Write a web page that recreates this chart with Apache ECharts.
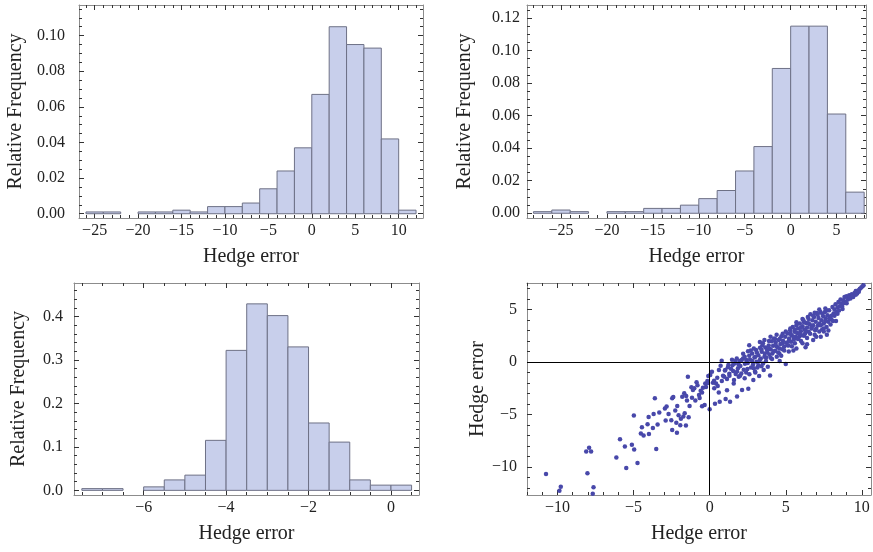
<!DOCTYPE html>
<html>
<head>
<meta charset="utf-8">
<script src="https://cdn.jsdelivr.net/npm/echarts@6/dist/echarts.min.js"></script>
<style>
  html, body { margin: 0; padding: 0; background: #fff; }
  #chart { width: 873px; height: 552px; }
</style>
</head>
<body>
<div id="chart"></div>
<script>
// histogram 1 (top left): bin left edges, width 2
const hist1Left = [-26, -24, -20, -18, -16, -14, -12, -10, -8, -6, -4, -2, 0, 2, 4, 6, 8, 10];
const hist1Freq = [0.001, 0.001, 0.001, 0.001, 0.002, 0.001, 0.004, 0.004, 0.006, 0.014, 0.024, 0.037, 0.067, 0.105, 0.095, 0.093, 0.042, 0.002];
const hist1Width = 2;

// histogram 2 (top right)
const hist2Left = [-28, -26, -24, -20, -18, -16, -14, -12, -10, -8, -6, -4, -2, 0, 2, 4, 6];
const hist2Freq = [0.001, 0.002, 0.001, 0.001, 0.001, 0.003, 0.003, 0.005, 0.009, 0.014, 0.026, 0.041, 0.089, 0.115, 0.115, 0.061, 0.013];
const hist2Width = 2;

// histogram 3 (bottom left), width 0.5
const hist3Left = [-7.5, -7, -6, -5.5, -5, -4.5, -4, -3.5, -3, -2.5, -2, -1.5, -1, -0.5, 0];
const hist3Freq = [0.004, 0.004, 0.008, 0.024, 0.035, 0.115, 0.322, 0.429, 0.402, 0.330, 0.155, 0.111, 0.024, 0.012, 0.012];
const hist3Width = 0.5;

// scatter (bottom right): [hedge error A, hedge error B]
const scatterPts = [
  [-10.75,-10.66],[-9.87,-12.25],[-9.78,-11.87],[-8.11,-8.51],[-7.92,-8.16],[-7.79,-8.51],[-8.03,-10.6],[-7.63,-11.93],
  [-7.68,-12.53],[-7.0,-12.75],[-6.13,-9.08],[-5.89,-7.34],[-5.57,-8.04],[-5.48,-10.09],[-5.11,-7.88],[-4.96,-8.32],
  [-4.98,-5.09],[-4.74,-9.62],[-4.52,-6.8],[-4.45,-6.2],[-4.34,-6.99],[-4.08,-5.92],[-4.01,-5.22],[-3.99,-6.84],
  [-3.73,-6.27],[-3.68,-4.94],[-3.6,-3.45],[-3.51,-8.29],[-3.42,-5.95],[-3.31,-4.81],[-2.94,-4.43],[-2.89,-5.57],
  [-2.83,-4.24],[-2.7,-4.94],[-2.52,-5.54],[-2.46,-3.45],[-2.39,-3.32],[-2.46,-6.46],[-2.26,-4.62],[-2.19,-5.79],
  [-2.15,-6.74],[-2.13,-4.18],[-2.04,-5.06],[-1.93,-6.01],[-1.89,-5.41],[-1.73,-5.19],[-1.67,-2.97],[-1.64,-4.87],
  [-1.56,-6.04],[-1.54,-3.23],[-1.49,-3.67],[-1.43,-1.39],[-1.38,-5.25],[-1.32,-4.18],[-1.16,-3.39],[-1.1,-2.66],
  [-1.01,-2.5],[-0.94,-3.67],[-0.86,-1.93],[-0.7,-3.13],[-0.66,-3.42],[-0.59,-2.72],[-0.5,-4.21],[-0.44,-2.44],
  [-0.33,-4.08],[-0.29,-2.03],[-0.24,-2.37],[-0.15,-1.8],[-0.09,-1.33],[0,-4.49],[0.04,-1.23],[0.15,-0.92],
  [0.22,-1.96],[0.29,-1.77],[0.35,-3.96],[0.42,-2.03],[0.53,-2.28],[0.61,-0.76],[0.66,-3.77],[0.72,-0.35],
  [0.79,0.13],[0.88,-1.3],[0.96,-1.39],[1.03,-0.76],[1.05,-3.51],[1.14,-1.61],[1.14,-2.69],[1.23,-0.28],
  [1.29,-1.11],[1.34,-3.77],[1.4,-0.63],[1.47,0.22],[1.54,-0.85],[1.58,-2.03],[1.64,-0.13],[1.71,-1.14],
  [1.78,0.35],[1.8,-3.29],[1.86,-0.6],[1.91,-1.39],[1.97,0.09],[2.02,-0.38],[2.08,-1.08],[2.13,-2.66],
  [2.19,0.35],[2.24,-0.73],[2.3,-1.55],[2.32,-0.16],[2.41,0.19],[2.48,-0.66],[2.52,1.04],[2.54,-2.53],
  [2.61,-1.17],[2.65,0.25],[2.72,-0.51],[2.79,0.82],[2.85,-0.22],[2.87,-1.71],[2.94,0.44],[2.98,-0.89],
  [3.05,1.14],[3.09,0.03],[3.14,-0.51],[3.2,0.66],[3.25,-1.33],[3.31,1.36],[3.36,0.35],[3.42,0.98],
  [3.46,1.61],[3.51,-0.13],[3.55,-0.76],[3.62,0.82],[3.66,1.39],[3.71,0.44],[3.77,1.14],[3.82,-0.44],
  [3.88,1.58],[3.93,0.7],[3.97,-1.27],[4.01,1.23],[4.08,1.99],[4.12,0.82],[4.17,1.55],[4.23,2.25],
  [4.3,1.08],[4.34,1.84],[4.41,0.51],[4.47,1.39],[4.54,2.09],[4.58,0.82],[4.65,1.71],[4.71,2.47],
  [4.78,1.23],[4.82,2.03],[4.89,1.46],[4.96,2.41],[5.0,-0.19],[5.04,1.84],[5.11,2.72],[5.18,1.58],
  [5.22,2.25],[5.29,3.04],[5.35,1.93],[5.39,2.56],[5.46,3.35],[5.53,2.15],[5.57,2.88],[5.64,2.41],
  [5.7,3.51],[5.75,2.78],[5.81,3.2],[5.88,2.41],[5.92,3.67],[5.99,2.94],[6.05,2.56],[6.1,3.42],
  [6.16,3.99],[6.23,3.1],[6.27,2.72],[6.34,3.73],[6.4,3.29],[6.45,4.3],[6.51,2.88],[6.58,3.58],
  [6.62,4.56],[6.69,3.2],[6.75,3.99],[6.8,3.51],[6.86,4.3],[6.93,3.04],[6.97,3.83],[7.04,4.68],
  [7.11,3.48],[7.15,4.2],[7.21,3.67],[7.28,4.78],[7.35,3.99],[7.39,3.1],[7.46,4.37],[7.5,3.67],
  [7.57,4.78],[7.63,4.15],[7.68,3.35],[7.74,4.46],[7.79,3.83],[7.85,4.94],[7.89,4.3],[7.94,3.58],
  [8.0,4.05],[8.07,5.25],[8.14,4.62],[8.2,5.0],[8.27,5.51],[8.33,4.78],[8.4,5.19],[8.46,5.73],
  [8.53,5.32],[8.6,5.95],[8.66,5.57],[8.73,5.06],[8.79,5.89],[8.86,6.2],[8.93,5.73],[8.99,6.27],
  [9.08,5.95],[9.17,6.36],[9.25,6.05],[9.34,6.46],[9.43,6.2],[9.52,6.58],[9.6,6.77],[9.69,6.52],
  [9.78,6.84],[9.87,6.99],[9.96,7.09],[10.04,7.22],[10.11,7.31],
  [1.2,-0.5],[1.5,-0.3],[1.7,0.1],[1.9,-0.2],[2.1,0.2],[2.3,0.5],[2.5,-0.1],[2.6,0.6],
  [2.8,0.1],[3.0,0.5],[3.1,0.9],[3.3,0.2],[3.4,1.2],[3.6,0.5],[3.8,0.9],[3.9,1.3],
  [4.0,0.4],[4.2,1.0],[4.4,1.5],[4.5,0.9],[4.6,1.3],[4.8,1.8],[4.9,1.1],[5.1,1.6],
  [5.2,2.0],[5.4,1.5],[5.5,2.4],[5.6,1.8],[5.8,2.2],[5.9,2.7],[6.0,2.0],[6.2,2.5],
  [6.3,3.0],[6.4,2.3],[6.6,2.7],[6.7,3.3],[6.9,2.6],[7.0,3.2],[7.2,2.9],[7.3,3.5],
  [7.5,3.2],[7.6,3.9],[7.8,3.0],[7.9,4.1],[8.1,3.9],[8.2,4.4],[8.4,4.6],[8.5,4.9],
  [8.7,5.3],[8.8,5.6],[9.0,5.6],[9.2,6.1],[9.4,6.3],[9.6,6.4],[9.8,6.7],[4.3,2.2],
  [4.6,2.2],[5.0,2.9],[5.3,2.7],[5.6,3.1],[6.0,3.3],[6.2,3.8],[6.5,3.7],[6.8,4.4],
  [7.1,4.5],[7.4,4.6],[7.7,4.9],[8.0,4.4],[8.3,3.9],[3.5,1.8],[3.9,2.0],[2.2,0.8],
  [2.7,1.1],[1.0,-0.8],[1.3,-1.3],[1.6,-1.7],[1.8,-0.9],[2.0,-1.3],[2.4,-1.0],[2.9,-0.6],
  [3.2,-0.3],[3.7,0.1],[4.1,0.3],[4.7,0.6],[5.2,1.0],[5.7,1.3],[6.1,1.8],[6.4,1.7],
  [6.8,2.1],[7.3,2.4],[7.7,2.6],[0.5,-1.5],[0.8,-1.8],[0.3,-2.5],[0.6,-2.9],[-0.1,-2.0],
  [-0.5,-2.9],[-0.8,-2.2],[-1.2,-2.4],[-1.8,-3.3],
  [3.3,1.9],[3.6,2.1],[4.0,2.4],[4.4,2.6],[4.8,2.7],[5.3,3.2],[5.7,3.8],[6.1,4.1],
  [6.5,4.1],[6.9,4.7],[7.2,5.0],[7.6,5.1],[2.9,1.3],[2.6,1.6],[3.0,-1.0],[3.4,-0.4],
  [4.6,0.1],[5.5,1.1],[6.3,1.4],[7.0,2.4],[7.5,2.9]
];

// tick labels
const ticks1X = [-25, -20, -15, -10, -5, 0, 5, 10];
const ticks1Y = [0, 0.02, 0.04, 0.06, 0.08, 0.10];
const ticks2X = [-25, -20, -15, -10, -5, 0, 5];
const ticks2Y = [0, 0.02, 0.04, 0.06, 0.08, 0.10, 0.12];
const ticks3X = [-6, -4, -2, 0];
const ticks3Y = [0, 0.1, 0.2, 0.3, 0.4];
const ticks4X = [-10, -5, 0, 5, 10];
const ticks4Y = [-10, -5, 0, 5];

const FONT = 'Liberation Serif';
const FRAME = '#8c8c8c';
const TICK = '#333';
const TXT = '#222';

// minor tick positions between majors, inside [min, max]
function minorTicks(majors, n, min, max) {
  const step = (majors[1] - majors[0]) / (n + 1);
  const out = [];
  const start = majors[0] - step * Math.floor((majors[0] - min) / step);
  for (let v = start; v <= max + 1e-9; v += step) out.push(+v.toFixed(6));
  return out;
}

const minus = (s) => s.replace('-', '\u2212');

const xAxis = [];
const yAxis = [];
const grid = [];

// one framed panel: 4 x-axes (bottom major/minor, top major/minor), 4 y-axes
function panel(g, box, xr, yr, xt, yt, xMinorN, yMinorN, xFmt, yFmt, xName, yName, yLabelMargin, yNameGap) {
  grid.push({ left: box[0], top: box[1], width: box[2], height: box[3], outerBoundsMode: 'none' });
  const xm = minorTicks(xt, xMinorN, xr[0], xr[1]);
  const ym = minorTicks(yt, yMinorN, yr[0], yr[1]);
  const base = (pos, min, max, line) => ({
    type: 'value', gridIndex: g, position: pos, min, max,
    splitLine: { show: false },
    axisLine: { show: line, onZero: false, lineStyle: { color: FRAME, width: 1 } },
    axisTick: { show: true, inside: true, length: 5, lineStyle: { color: TICK } },
    axisLabel: { show: false }
  });
  // x axes
  const xMain = base('bottom', xr[0], xr[1], true);
  xMain.axisTick.customValues = xt;
  xMain.axisLabel = { show: true, customValues: xt, margin: 5, color: TXT, fontFamily: FONT, fontSize: 16, formatter: (v) => minus(xFmt(v)) };
  xMain.name = xName; xMain.nameLocation = 'middle'; xMain.nameGap = 29;
  xMain.nameTextStyle = { fontFamily: FONT, fontSize: 20, color: TXT };
  xAxis.push(xMain);
  const xMin = base('bottom', xr[0], xr[1], false);
  xMin.axisTick.customValues = xm; xMin.axisTick.length = 3;
  xAxis.push(xMin);
  const xTop = base('top', xr[0], xr[1], true);
  xTop.axisTick.customValues = xt;
  xAxis.push(xTop);
  const xTopMin = base('top', xr[0], xr[1], false);
  xTopMin.axisTick.customValues = xm; xTopMin.axisTick.length = 3;
  xAxis.push(xTopMin);
  // y axes
  const yMain = base('left', yr[0], yr[1], true);
  yMain.axisTick.customValues = yt;
  yMain.axisLabel = { show: true, customValues: yt, margin: yLabelMargin, color: TXT, fontFamily: FONT, fontSize: 16, formatter: (v) => minus(yFmt(v)) };
  yMain.name = yName; yMain.nameLocation = 'middle'; yMain.nameGap = yNameGap;
  yMain.nameTextStyle = { fontFamily: FONT, fontSize: 20, color: TXT };
  yAxis.push(yMain);
  const yMin = base('left', yr[0], yr[1], false);
  yMin.axisTick.customValues = ym; yMin.axisTick.length = 3;
  yAxis.push(yMin);
  const yRight = base('right', yr[0], yr[1], true);
  yRight.axisTick.customValues = yt;
  yAxis.push(yRight);
  const yRightMin = base('right', yr[0], yr[1], false);
  yRightMin.axisTick.customValues = ym; yRightMin.axisTick.length = 3;
  yAxis.push(yRightMin);
}

const intFmt = (v) => String(Math.round(v));
panel(0, [79, 5, 344, 213], [-26.8, 12.8], [-0.0024, 0.1172], ticks1X, ticks1Y, 4, 3,
  intFmt, (v) => v.toFixed(2), 'Hedge error', 'Relative Frequency', 14, 53);
panel(1, [527, 5, 339, 213], [-28.7, 8.2], [-0.0029, 0.128], ticks2X, ticks2Y, 4, 3,
  intFmt, (v) => v.toFixed(2), 'Hedge error', 'Relative Frequency', 7, 52);
panel(2, [74, 283, 345, 212], [-7.69, 0.68], [-0.0107, 0.477], ticks3X, ticks3Y, 3, 4,
  intFmt, (v) => v.toFixed(1), 'Hedge error', 'Relative Frequency', 11, 45);
panel(3, [527, 283, 344, 212], [-12.0, 10.6], [-12.66, 7.53], ticks4X, ticks4Y, 4, 4,
  intFmt, intFmt, 'Hedge error', 'Hedge error', 10, 38);

function histSeries(g, left, freq, width) {
  return {
    type: 'custom',
    xAxisIndex: g * 4,
    yAxisIndex: g * 4,
    clip: true,
    silent: true,
    data: left.map((l, i) => [l, l + width, freq[i]]),
    renderItem(params, api) {
      const p0 = api.coord([api.value(0), 0]);
      const p1 = api.coord([api.value(1), api.value(2)]);
      return {
        type: 'rect',
        shape: { x: p0[0], y: p1[1], width: p1[0] - p0[0], height: p0[1] - p1[1] },
        style: { fill: '#c8cfeb', stroke: '#6e7186', lineWidth: 1 }
      };
    }
  };
}

const series = [
  histSeries(0, hist1Left, hist1Freq, hist1Width),
  histSeries(1, hist2Left, hist2Freq, hist2Width),
  histSeries(2, hist3Left, hist3Freq, hist3Width),
  {
    type: 'scatter',
    xAxisIndex: 12,
    yAxisIndex: 12,
    data: scatterPts,
    symbolSize: 4.5,
    clip: true,
    silent: true,
    itemStyle: { color: '#4848aa', opacity: 1 },
    markLine: {
      silent: true,
      symbol: 'none',
      label: { show: false },
      lineStyle: { color: '#000', width: 1, type: 'solid' },
      data: [{ xAxis: 0 }, { yAxis: 0 }]
    }
  }
];

const chart = echarts.init(document.getElementById('chart'), null, { renderer: 'canvas' });
chart.setOption({
  animation: false,
  backgroundColor: '#fff',
  textStyle: { fontFamily: FONT },
  grid,
  xAxis,
  yAxis,
  series
});
</script>
</body>
</html>
